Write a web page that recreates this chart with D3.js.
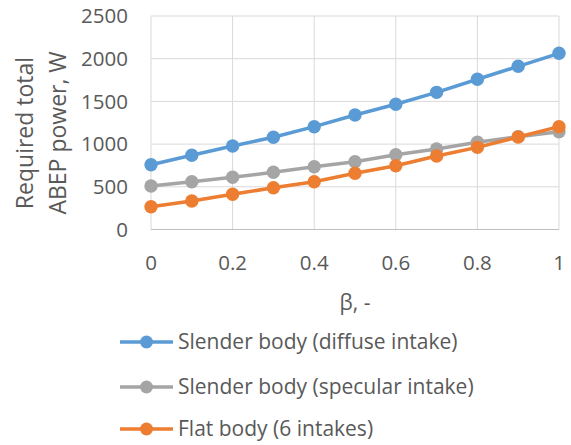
<!DOCTYPE html>
<html>
<head>
<meta charset="utf-8">
<script src="https://cdn.jsdelivr.net/npm/d3@7"></script>
<style>
  body { margin: 0; background: #fff; }
  text { font-family: "Open Sans", sans-serif; fill: #595959; }
</style>
</head>
<body>
<svg id="chart" width="571" height="445"></svg>
<script>
// beta values along the x axis
const betas = [0, 0.1, 0.2, 0.3, 0.4, 0.5, 0.6, 0.7, 0.8, 0.9, 1];

// required total ABEP power, W
const slenderDiffuse = [759, 869, 978, 1080, 1204, 1341, 1466, 1606, 1759, 1911, 2063];
const slenderSpecular = [509, 560, 611, 670, 735, 794, 876, 943, 1021, 1087, 1145];
const flatBody = [267, 334, 412, 489, 560, 658, 747, 861, 962, 1083, 1204];

const seriesNames = [
  "Slender body (diffuse intake)",
  "Slender body (specular intake)",
  "Flat body (6 intakes)"
];
const seriesColors = ["#5b9bd5", "#a5a5a5", "#ed7d31"];

const xTicks = [0, 0.2, 0.4, 0.6, 0.8, 1];
const yTicks = [0, 500, 1000, 1500, 2000, 2500];

const series = [slenderDiffuse, slenderSpecular, flatBody].map((vals, i) => ({
  name: seriesNames[i],
  color: seriesColors[i],
  points: vals.map((v, j) => ({ x: betas[j], y: v }))
}));

const svg = d3.select("#chart");
const plot = { left: 151, right: 559, top: 16, bottom: 229.5 };

const x = d3.scaleLinear().domain([0, 1]).range([plot.left, plot.right]);
const y = d3.scaleLinear().domain([0, 2500]).range([plot.bottom, plot.top]);

// gridlines
svg.append("g")
  .selectAll("line")
  .data(yTicks.filter((d) => d > 0))
  .join("line")
  .attr("x1", plot.left).attr("x2", plot.right)
  .attr("y1", (d) => y(d)).attr("y2", (d) => y(d))
  .attr("stroke", "#d9d9d9").attr("stroke-width", 1);

svg.append("g")
  .selectAll("line")
  .data(xTicks)
  .join("line")
  .attr("x1", (d) => x(d)).attr("x2", (d) => x(d))
  .attr("y1", plot.top).attr("y2", plot.bottom)
  .attr("stroke", "#d9d9d9").attr("stroke-width", 1);

// bottom axis line
svg.append("line")
  .attr("x1", plot.left).attr("x2", plot.right)
  .attr("y1", y(0)).attr("y2", y(0))
  .attr("stroke", "#bfbfbf").attr("stroke-width", 1);

// tick labels
svg.append("g")
  .selectAll("text")
  .data(yTicks)
  .join("text")
  .attr("x", 128)
  .attr("y", (d) => y(d))
  .attr("dy", "0.35em")
  .attr("text-anchor", "end")
  .style("font-size", "20.5px")
  .text((d) => d);

svg.append("g")
  .selectAll("text")
  .data(xTicks)
  .join("text")
  .attr("x", (d) => x(d))
  .attr("y", 263)
  .attr("dy", "0.35em")
  .attr("text-anchor", "middle")
  .style("font-size", "20.5px")
  .text((d) => d3.format("~g")(d));

// axis titles
svg.append("text")
  .attr("x", x(0.5))
  .attr("y", 303)
  .attr("dy", "0.35em")
  .attr("text-anchor", "middle")
  .style("font-size", "21px")
  .text("β, -");

const yTitle = svg.append("text")
  .attr("transform", "translate(0,133) rotate(-90)")
  .attr("text-anchor", "middle")
  .style("font-size", "23px");
yTitle.append("tspan").attr("x", 0).attr("y", 25).attr("dy", "0.35em").text("Required total");
yTitle.append("tspan").attr("x", 0).attr("y", 58).attr("dy", "0.35em").text("ABEP power, W");

// series lines and markers
const line = d3.line()
  .x((d) => x(d.x))
  .y((d) => y(d.y));

series.forEach((s) => {
  const g = svg.append("g");
  g.append("path")
    .datum(s.points)
    .attr("d", line)
    .attr("fill", "none")
    .attr("stroke", s.color)
    .attr("stroke-width", 3.5)
    .attr("stroke-linejoin", "round");
  g.selectAll("circle")
    .data(s.points)
    .join("circle")
    .attr("cx", (d) => x(d.x))
    .attr("cy", (d) => y(d.y))
    .attr("r", 6.7)
    .attr("fill", s.color);
});

// legend
const legendRows = [342, 387, 429];
const legend = svg.append("g")
  .selectAll("g")
  .data(series)
  .join("g")
  .attr("transform", (d, i) => `translate(0,${legendRows[i]})`);

legend.append("line")
  .attr("x1", 120).attr("x2", 173)
  .attr("stroke", (d) => d.color)
  .attr("stroke-width", 3.5);
legend.append("circle")
  .attr("cx", 146.5)
  .attr("r", 6.5)
  .attr("fill", (d) => d.color);
legend.append("text")
  .attr("x", 178)
  .attr("dy", "0.35em")
  .style("font-size", "21px")
  .text((d) => d.name);
</script>
</body>
</html>
